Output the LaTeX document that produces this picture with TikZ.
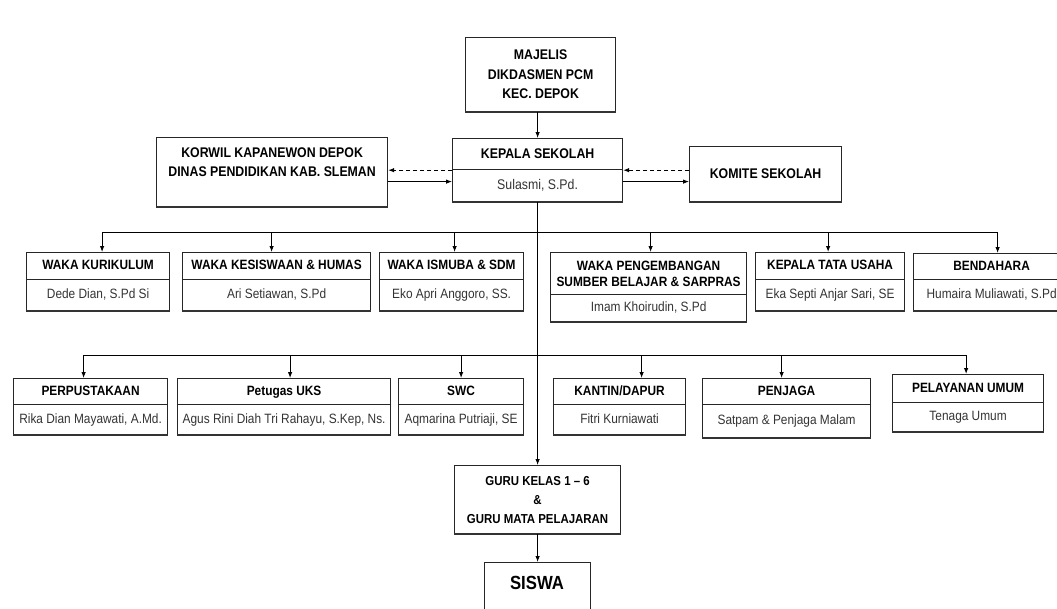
\documentclass[tikz,border=0pt]{standalone}
\usepackage{fontspec}
\setmainfont{Liberation Sans}[FakeStretch=0.88]
\usetikzlibrary{arrows.meta,calc}
\newcommand\orgunit[9][]{%
 \node[ttl, #1, minimum width={(#4-#3)*1pt}, minimum height={(#6-#5)*1pt}, anchor=north west] (#2) at (#3,#5) {#8};
 \node[nm, minimum width={(#4-#3)*1pt}, minimum height={(#7-#6)*1pt}, anchor=north west] (#2n) at (#3,#6) {#9};
 \draw[heavy] (#2n.south west) -- (#2n.south east);
}
\begin{document}
\begin{tikzpicture}[x=1pt,y=-1pt,
  frame/.style={draw=black!85, line width=1.2pt, inner sep=1pt, align=center},
  ttl/.style={frame, font=\fontsize{13.5}{16}\selectfont\bfseries, text height=9.5pt, text depth=2.5pt},
  nm/.style={frame, font=\fontsize{13.5}{15}\selectfont, text=black!80, text height=9.5pt, text depth=2.5pt},
  bigttl/.style={frame, font=\fontsize{14}{19.5}\selectfont\bfseries},
  txt/.style={inner sep=0pt, align=center, font=\fontsize{14}{19}\selectfont\bfseries},
  heavy/.style={line width=2pt, draw=black!80},
  link/.style={line width=0.9pt},
  arr/.style={line width=0.9pt, -{Latex[length=6pt,width=4.5pt]}},
  dsh/.style={arr, dash pattern=on 4pt off 3pt}
]
\useasboundingbox (0,0) rectangle (1057,608);

% top level
\node[bigttl, minimum width=150pt, minimum height=74pt, anchor=north west] (maj) at (465,37) {MAJELIS\\DIKDASMEN PCM\\KEC. DEPOK};
\draw[heavy] (maj.south west) -- (maj.south east);

\node[bigttl, minimum width=170pt, minimum height=31pt, anchor=north west] (kep) at (452,138) {KEPALA SEKOLAH};
\node[nm, font=\fontsize{14}{16}\selectfont, minimum width=170pt, minimum height=32pt, anchor=north west] (kepn) at (452,169) {Sulasmi, S.Pd.};
\draw[heavy] (kepn.south west) -- (kepn.south east);

\node[frame, minimum width=231pt, minimum height=69pt, anchor=north west] (korwil) at (156,137) {};
\draw[heavy] (korwil.south west) -- (korwil.south east);
\node[txt, anchor=north] (korwilt) at ([yshift=-11pt]korwil.north) {KORWIL KAPANEWON DEPOK\\DINAS PENDIDIKAN KAB. SLEMAN};

\node[bigttl, minimum width=152pt, minimum height=55pt, anchor=north west] (kom) at (689,146) {KOMITE SEKOLAH};
\draw[heavy] (kom.south west) -- (kom.south east);

\draw[arr] (kep.north |- maj.south) -- (kep.north);
\coordinate (ka) at ([yshift=4pt]kepn.west);
\coordinate (kb) at ([yshift=4pt]kepn.east);
\draw[dsh] (kep.south west) -- (kep.south west -| korwil.east);
\draw[arr] (korwil.east |- ka) -- (ka);
\draw[dsh] (kom.west |- kep.south east) -- (kep.south east);
\draw[arr] (kb) -- (kb -| kom.west);

% row 1
\orgunit{w1}{26}{169}{252}{279}{310}{WAKA KURIKULUM}{Dede Dian, S.Pd Si}
\orgunit{w2}{182}{370}{252}{279}{310}{WAKA KESISWAAN \& HUMAS}{Ari Setiawan, S.Pd}
\orgunit{w3}{379}{523}{252}{279}{310}{WAKA ISMUBA \& SDM}{Eko Apri Anggoro, SS.}
\orgunit[text height={}, text depth={}]{w4}{550}{746}{252}{294}{321}{WAKA PENGEMBANGAN\\SUMBER BELAJAR \& SARPRAS}{Imam Khoirudin, S.Pd}
\orgunit{w5}{755}{904}{252}{279}{310}{KEPALA TATA USAHA}{Eka Septi Anjar Sari, SE}
\orgunit{w6}{913}{1069}{253}{279}{310}{BENDAHARA}{Humaira Muliawati, S.Pd}

\coordinate (bus1) at (0,232);
\draw[link] ([xshift=4pt]w1.north |- bus1) -- ([xshift=6pt]w6.north |- bus1);
\draw[arr] ([xshift=4pt]w1.north |- bus1) -- ([xshift=4pt]w1.north);
\draw[arr] ([xshift=-5pt]w2.north |- bus1) -- ([xshift=-5pt]w2.north);
\draw[arr] ([xshift=3pt]w3.north |- bus1) -- ([xshift=3pt]w3.north);
\draw[arr] ([xshift=2pt]w4.north |- bus1) -- ([xshift=2pt]w4.north);
\draw[arr] ([xshift=-2pt]w5.north |- bus1) -- ([xshift=-2pt]w5.north);
\draw[arr] ([xshift=6pt]w6.north |- bus1) -- ([xshift=6pt]w6.north);

% row 2
\orgunit{s1}{13}{167}{378}{404}{434}{PERPUSTAKAAN}{Rika Dian Mayawati, A.Md.}
\orgunit{s2}{177}{390}{378}{404}{434}{Petugas UKS}{Agus Rini Diah Tri Rahayu, S.Kep, Ns.}
\orgunit{s3}{398}{523}{378}{404}{434}{SWC}{Aqmarina Putriaji, SE}
\orgunit{s4}{553}{685}{378}{404}{434}{KANTIN/DAPUR}{Fitri Kurniawati}
\orgunit{s5}{702}{870}{378}{404}{437}{PENJAGA}{Satpam \& Penjaga Malam}
\orgunit{s6}{892}{1043}{374}{402}{431}{PELAYANAN UMUM}{Tenaga Umum}

\coordinate (bus2) at (0,355);
\draw[link] ([xshift=-7pt]s1.north |- bus2) -- ([xshift=-2pt]s6.north |- bus2);
\draw[arr] ([xshift=-7pt]s1.north |- bus2) -- ([xshift=-7pt]s1.north);
\draw[arr] ([xshift=6pt]s2.north |- bus2) -- ([xshift=6pt]s2.north);
\draw[arr] (s3.north |- bus2) -- (s3.north);
\draw[arr] ([xshift=22pt]s4.north |- bus2) -- ([xshift=22pt]s4.north);
\draw[arr] ([xshift=-5pt]s5.north |- bus2) -- ([xshift=-5pt]s5.north);
\draw[arr] ([xshift=-2pt]s6.north |- bus2) -- ([xshift=-2pt]s6.north);

% bottom
\node[frame, font=\fontsize{13}{19}\selectfont\bfseries, minimum width=166pt, minimum height=68pt, anchor=north west] (guru) at (454,465) {GURU KELAS 1 – 6\\\&\\GURU MATA PELAJARAN};
\draw[heavy] (guru.south west) -- (guru.south east);
\draw[arr] (kepn.south) -- (guru.north);

\node[frame, minimum width=106pt, minimum height=60pt, anchor=north west] (siswa) at (484,562) {};
\node[inner sep=0pt, font=\fontsize{19}{22}\selectfont\bfseries] (siswat) at (537,583) {SISWA};
\draw[arr] (guru.south) -- (siswa.north);
\end{tikzpicture}
\end{document}
